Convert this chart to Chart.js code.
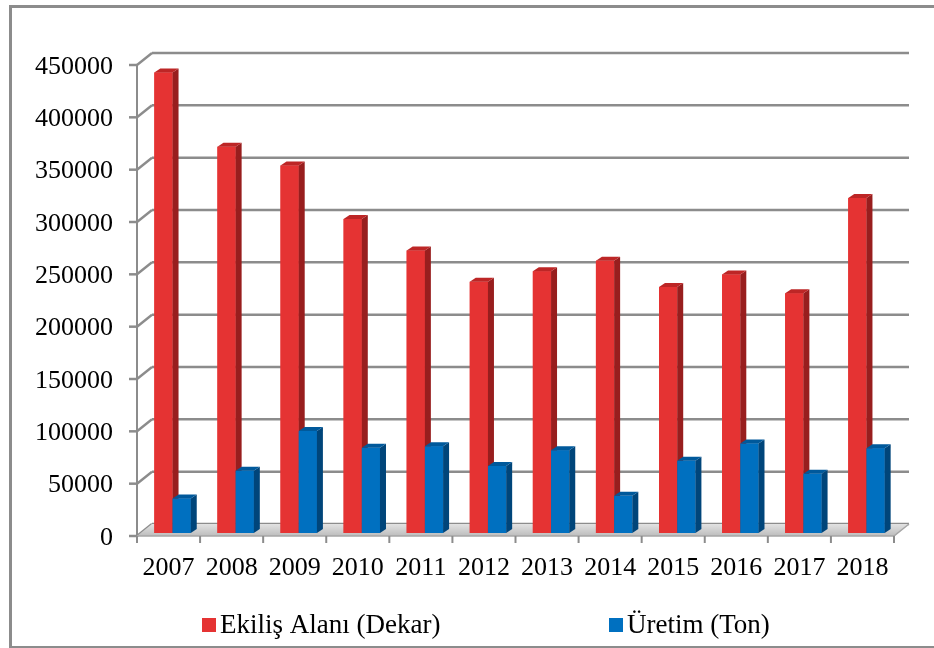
<!DOCTYPE html>
<html>
<head>
<meta charset="utf-8">
<script src="https://cdn.jsdelivr.net/npm/chart.js@4.4.1/dist/chart.umd.min.js"></script>
<style>
  html, body { margin:0; padding:0; background:#fff; overflow:hidden; }
  #wrap { position:relative; width:934px; height:648px; }
  #frame { position:absolute; left:9px; top:5px; width:960px; height:638px; border:3px solid #8c8c8c; box-sizing:content-box; pointer-events:none; }
  canvas { position:absolute; left:0; top:0; }
</style>
</head>
<body>
<div id="wrap">
  <canvas id="c" width="934" height="648"></canvas>
  <div id="frame"></div>
</div>
<script>
const years = ['2007','2008','2009','2010','2011','2012','2013','2014','2015','2016','2017','2018'];
const ekilisAlani = [440000, 369000, 351000, 300000, 270000, 240000, 250000, 260000, 235000, 247000, 229000, 320000];
const uretim = [33000, 59500, 97500, 81500, 83000, 64000, 79000, 35500, 69000, 85500, 56500, 81000];
const seriesNames = ['Ekiliş Alanı (Dekar)', 'Üretim (Ton)'];
const yMin = 0, yMax = 450000, yStep = 50000;

const SERIF = '"Liberation Serif", "Times New Roman", serif';
const DX = 6, DY = -4;          // bar depth
const BACK_DX = 11, BACK_DY = -9;   // back wall offset from bar plane
const FRONT_DX = -4, FRONT_DY = 3;  // front plane offset from bar plane

function line(ctx, x1, y1, x2, y2) { ctx.beginPath(); ctx.moveTo(x1, y1); ctx.lineTo(x2, y2); ctx.stroke(); }
function poly(ctx, pts, fill) { ctx.beginPath(); ctx.moveTo(pts[0][0], pts[0][1]); for (let i = 1; i < pts.length; i++) ctx.lineTo(pts[i][0], pts[i][1]); ctx.closePath(); ctx.fillStyle = fill; ctx.fill(); }

const threeD = {
  id: 'threeD',
  beforeDatasetsDraw(chart) {
    const ctx = chart.ctx, ys = chart.scales.y, xs = chart.scales.x, ca = chart.chartArea;
    ctx.save();
    ctx.strokeStyle = '#8c8c8c';
    ctx.lineWidth = 2.5;
    ys.ticks.forEach(t => {
      const py = ys.getPixelForValue(t.value);
      const fx = ca.left + FRONT_DX, fy = py + FRONT_DY;
      line(ctx, fx - 8, fy, fx, fy);
      line(ctx, fx, fy, ca.left + BACK_DX, py + BACK_DY);
      line(ctx, ca.left + BACK_DX, py + BACK_DY, ca.right + BACK_DX, py + BACK_DY);
    });
    const yTop = ys.getPixelForValue(yMax), y0 = ys.getPixelForValue(0);
    ctx.lineWidth = 2;
    line(ctx, ca.left + FRONT_DX, yTop + FRONT_DY, ca.left + FRONT_DX, y0 + FRONT_DY);
    // floor
    const g = ctx.createLinearGradient(0, y0 + BACK_DY, 0, y0 + FRONT_DY);
    g.addColorStop(0, '#e2e2e2'); g.addColorStop(1, '#bdbdbd');
    poly(ctx, [[ca.left + FRONT_DX, y0 + FRONT_DY], [ca.right + FRONT_DX, y0 + FRONT_DY], [ca.right + BACK_DX, y0 + BACK_DY], [ca.left + BACK_DX, y0 + BACK_DY]], g);
    ctx.strokeStyle = '#a6a6a6'; ctx.lineWidth = 1.5;
    ctx.beginPath();
    ctx.moveTo(ca.left + FRONT_DX, y0 + FRONT_DY); ctx.lineTo(ca.right + FRONT_DX, y0 + FRONT_DY);
    ctx.lineTo(ca.right + BACK_DX, y0 + BACK_DY); ctx.stroke();
    // category ticks
    ctx.strokeStyle = '#8c8c8c'; ctx.lineWidth = 2;
    const cw = ca.width / years.length;
    for (let i = 0; i <= years.length; i++) {
      const px = xs.getPixelForValue(0) - cw / 2 + i * cw + FRONT_DX;
      line(ctx, px, y0 + FRONT_DY, px, y0 + FRONT_DY + 7);
    }
    ctx.restore();
  },
  afterDatasetsDraw(chart) {
    const ctx = chart.ctx;
    ctx.save();
    chart.data.datasets.forEach((ds, i) => {
      const meta = chart.getDatasetMeta(i);
      meta.data.forEach(el => {
        el.draw(ctx);
        const p = el.getProps(['x', 'y', 'base', 'width'], true);
        const l = p.x - p.width / 2, r = p.x + p.width / 2;
        poly(ctx, [[r, p.y], [r + DX, p.y + DY], [r + DX, p.base + DY], [r, p.base]], ds.sideColor);
        poly(ctx, [[l, p.y], [r, p.y], [r + DX, p.y + DY], [l + DX, p.y + DY]], ds.topColor);
      });
    });
    ctx.restore();
  },
  afterDraw(chart) {
    const ctx = chart.ctx;
    ctx.save();
    ctx.font = '27px ' + SERIF;
    ctx.textBaseline = 'alphabetic';
    const items = [{ x: 202 }, { x: 609 }];
    chart.data.datasets.forEach((ds, i) => {
      const bx = items[i].x;
      ctx.fillStyle = ds.backgroundColor;
      ctx.fillRect(bx, 618, 14, 14);
      ctx.fillStyle = '#000';
      ctx.fillText(ds.label, bx + 18, 633);
    });
    ctx.restore();
  }
};

new Chart(document.getElementById('c'), {
  type: 'bar',
  data: {
    labels: years,
    datasets: [
      { label: seriesNames[0], data: ekilisAlani, backgroundColor: '#e53333', sideColor: '#981e1e', topColor: '#bd2626', borderWidth: 0 },
      { label: seriesNames[1], data: uretim, backgroundColor: '#0070c0', sideColor: '#00457a', topColor: '#00599b', borderWidth: 0 }
    ]
  },
  options: {
    responsive: false,
    animation: false,
    devicePixelRatio: 1,
    layout: { padding: { left: 0, right: 36, top: 62, bottom: 0 } },
    plugins: { legend: { display: false }, tooltip: { enabled: false } },
    datasets: { bar: { barPercentage: 1, categoryPercentage: 0.577 } },
    scales: {
      x: {
        grid: { display: false, drawTicks: false },
        border: { display: false },
        ticks: { padding: 20, labelOffset: -4, maxRotation: 0, autoSkip: false, color: '#000', font: { family: SERIF, size: 26 } },
        afterFit(s) { s.height = 115; }
      },
      y: {
        min: yMin, max: yMax,
        grid: { display: false, drawTicks: false },
        border: { display: false },
        ticks: { stepSize: yStep, padding: 28, labelOffset: 5, color: '#000', font: { family: SERIF, size: 26 }, callback: v => String(v) },
        afterFit(s) { s.width = 141; }
      }
    }
  },
  plugins: [threeD]
});
</script>
</body>
</html>
